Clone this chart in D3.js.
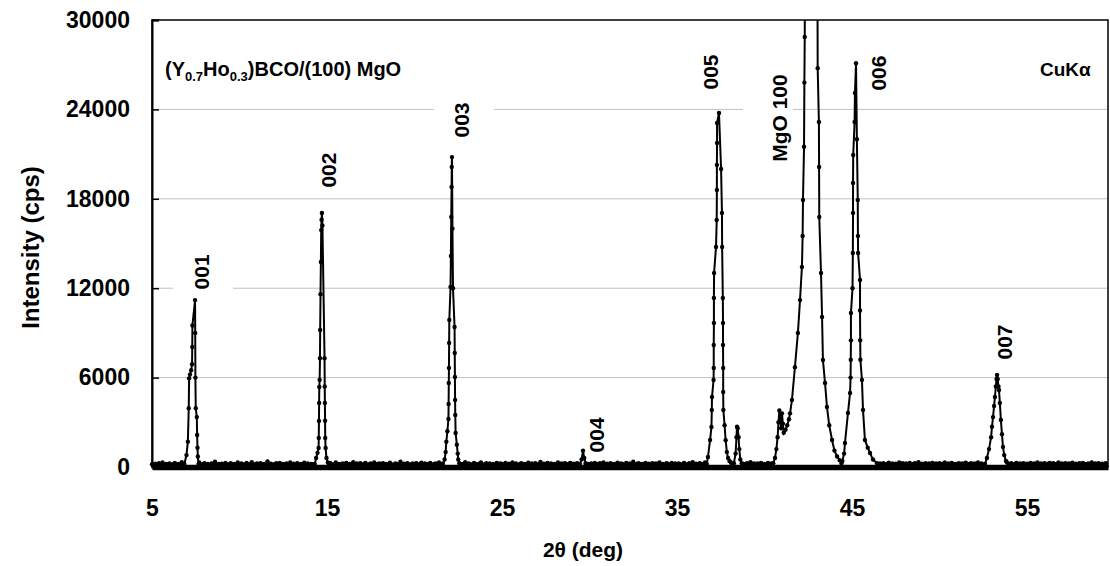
<!DOCTYPE html>
<html>
<head>
<meta charset="utf-8">
<script src="https://cdn.jsdelivr.net/npm/d3@7"></script>
<style>
  body { margin: 0; background: #fff; }
  svg { font-family: "Liberation Sans", Arial, sans-serif; font-weight: bold; }
  .grid line { stroke: #c0c0c0; stroke-width: 1; }
  .axis path { stroke: #000; stroke-width: 2; }
  .x.axis path { stroke-width: 5.5; }
  .axis line { stroke: #000; stroke-width: 1.5; }
  .axis text { font-size: 23px; fill: #000; }
  .scan-line { fill: none; stroke: #000; stroke-width: 2; }
  .scan-dot { fill: #000; }
  .peak-label { font-size: 21px; fill: #000; }
</style>
</head>
<body>
<div id="cht_XRD"></div>
<script>
// Background scan, start / step in 2theta, counts
const bgStart = 5,
  bgStep = 0.1;
const bgCounts = [
  180,140,220,90,260,150,310,120,200,170, 240,100,190,280,130,210,160,330,110,250,
  150,200,90,270,180,230,140,300,120,190, 260,170,210,110,240,150,350,130,200,180,
  220,160,280,100,190,250,140,210,170,300,
  130,240,180,110,270,160,200,320,150,190, 230,120,260,170,210,140,380,160,220,110,
  190,250,130,280,170,200,150,240,120,310, 180,220,140,260,100,200,170,290,150,230,
  120,210,180,340,160,250,130,200,190,270,
  220,150,260,130,190,300,170,210,120,240, 180,280,140,200,160,330,110,230,190,250,
  150,210,270,130,180,240,160,310,140,200, 230,120,260,180,210,150,290,170,130,240,
  200,160,350,140,220,180,260,110,190,230,
  170,250,140,210,290,160,230,120,200,270, 150,190,240,130,310,180,220,160,260,140,
  200,170,280,120,230,190,250,150,210,330, 160,240,180,130,270,200,150,220,300,170,
  140,260,190,230,160,210,120,280,180,240,
  200,150,270,130,220,180,310,160,240,110, 190,250,170,210,140,290,180,230,120,260,
  160,200,340,150,220,180,270,130,240,190, 210,160,300,140,230,170,250,120,200,280,
  150,220,180,260,130,310,190,240,160,210,
  180,230,140,270,200,160,250,120,310,190, 220,150,260,180,210,130,290,170,240,200,
  140,270,190,230,160,350,120,210,250,180, 200,150,280,170,220,140,260,190,230,130,
  300,180,210,160,250,200,140,270,190,230,
  160,240,190,130,280,210,170,250,150,320, 180,220,140,260,200,170,310,150,230,190,
  240,160,280,140,210,180,260,200,150,300, 170,230,190,250,140,220,280,160,210,180,
  260,150,330,190,230,170,240,140,280,200,
  210,160,270,190,240,150,300,180,230,200, 170,260,140,310,220,190,250,160,280,210,
  180,240,200,320,170,260,150,230,290,190, 220,180,270,160,240,310,200,250,170,230,
  280,190,260,210,240,180,300,220,260,230,
  240,200,280,170,230,310,190,260,150,220, 270,180,240,200,330,160,230,190,260,140,
  210,290,170,240,180,220,150,300,200,250, 160,230,190,270,140,210,250,180,320,160,
  220,190,260,150,240,200,280,170,230,190,
  250,160,220,300,180,240,150,270,200,210, 170,260,190,230,140,290,210,180,250,160,
  230,200,310,170,240,150,220,280,190,260, 180,230,150,270,200,240,160,300,190,220,
  170,250,140,210,280,180,230,200,260,160,
  220,180,270,150,240,200,310,170,230,190, 260,140,220,280,180,250,160,210,300,190,
  230,170,260,150,240,200,290,160,220,180, 250,140,270,210,190,230,160,300,180,240,
  200,260,150,220,190,250,170
];

// Peak regions [2theta, counts]
const peak001 = [
  [6.85,200],[6.97,800],[7.05,1700],[7.10,3950],[7.12,5950],[7.17,6200],[7.24,6500],
  [7.29,6900],[7.30,8050],[7.31,9500],[7.46,11200],[7.47,9000],[7.48,6000],[7.50,3950],
  [7.56,3350],[7.58,2150],[7.60,1300],[7.62,700],[7.66,200]
];
const peak002 = [
  [14.30,200],[14.38,600],[14.46,950],[14.52,1280],[14.53,1950],[14.54,3090],[14.55,4300],
  [14.56,5370],[14.58,5850],[14.60,7300],[14.61,9200],[14.63,11600],[14.65,13760],
  [14.67,15900],[14.69,16600],[14.71,17050],[14.74,16200],[14.86,7300],[14.87,5400],
  [14.88,4300],[14.89,3100],[14.90,1950],[14.92,1280],[14.97,600],[15.05,300],[15.12,200]
];
const peak003 = [
  [21.62,200],[21.72,500],[21.78,1000],[21.82,1700],[21.88,2400],[21.94,3220],[21.95,4230],
  [21.96,5640],[21.97,6640],[21.98,8320],[21.99,9870],[22.06,12080],[22.08,14160],
  [22.10,16780],[22.12,18800],[22.13,20130],[22.14,20800],[22.17,16000],[22.20,12000],
  [22.29,9400],[22.30,7650],[22.31,6040],[22.32,4500],[22.33,3490],[22.35,2280],
  [22.42,1500],[22.47,900],[22.50,500],[22.56,250],[22.65,180]
];
const peak004 = [[29.45,200],[29.55,500],[29.63,1100],[29.70,600],[29.78,250]];
const peak005 = [
  [36.70,200],[36.77,670],[36.89,1810],[36.97,2680],[36.99,3830],[37.00,4700],[37.09,5840],
  [37.10,6640],[37.10,8190],[37.11,9660],[37.11,11340],[37.12,13020],[37.23,14770],
  [37.27,16580],[37.28,18590],[37.28,20270],[37.29,21740],[37.29,23090],[37.40,23760],
  [37.52,20000],[37.57,17050],[37.58,14770],[37.62,11340],[37.63,9660],[37.63,8190],
  [37.64,6640],[37.64,5030],[37.65,3830],[37.72,2800],[37.78,1800],[37.85,1000],
  [37.92,600],[38.00,400],[38.08,300],[38.15,200],
  [38.25,250],[38.35,900],[38.40,2000],[38.43,2700],[38.47,2600],[38.52,2000],
  [38.56,1200],[38.62,500],[38.70,250]
];
const peakMgO = [
  [40.50,250],[40.60,600],[40.68,1200],[40.75,2000],[40.80,3000],[40.85,3800],[40.90,3300],
  [40.95,2600],[41.00,3600],[41.05,2900],[41.10,2300],[41.20,2500],[41.30,2800],[41.40,3200],
  [41.46,3600],[41.57,4500],[41.74,6700],[41.91,9000],[42.03,11200],[42.14,13420],
  [42.18,15500],[42.20,17920],[42.26,21500],[42.28,25800],[42.30,28860],[42.36,45000],
  [42.50,80000],[42.70,110000],[42.90,80000],[43.00,45000],[43.04,26770],[43.11,23150],
  [43.12,20130],[43.13,16780],[43.23,13020],[43.29,10070],[43.34,7180],[43.46,5640],
  [43.57,4030],[43.70,2800],[43.86,1810],[44.00,1100],[44.15,700],[44.30,450]
];
const peak006 = [
  [44.45,400],[44.55,900],[44.60,1610],[44.77,3620],[44.89,4970],[44.92,6000],[44.93,7200],
  [44.94,8500],[44.94,10340],[45.03,12000],[45.05,14360],[45.06,17050],[45.06,19060],
  [45.07,20940],[45.15,23150],[45.17,25100],[45.23,27100],[45.28,22000],[45.33,17920],
  [45.34,15500],[45.35,14360],[45.46,12550],[45.46,10500],[45.47,8500],[45.48,7200],
  [45.57,5840],[45.63,3830],[45.74,1810],[45.90,1300],[46.03,940],[46.20,500],[46.43,250]
];
const peak007 = [
  [52.60,200],[52.71,600],[52.83,1200],[52.95,2000],[53.00,2700],[53.06,3350],[53.12,4100],
  [53.17,4700],[53.22,5400],[53.26,5900],[53.29,6170],[53.33,5900],[53.37,5400],
  [53.40,5170],[53.45,4300],[53.51,3150],[53.57,2200],[53.63,1340],[53.70,800],
  [53.80,400],[53.86,300],[53.95,200]
];

const yTicks = [0, 6000, 12000, 18000, 24000, 30000];
const xTicks = [5, 15, 25, 35, 45, 55];

// Reflection labels (anchor in 2theta / counts)
const labelText = ["001", "002", "003", "004", "005", "MgO 100", "006", "007"];
const labelTheta = [7.8, 15.11, 22.71, 30.4, 36.94, 40.83, 46.54, 53.69];
const labelCounts = [13090, 19930, 23290, 2150, 26510, 23420, 26440, 8390];

const chtWidth = 1110,
  chtHeight = 566;
const margin = { top: 20, right: 2, bottom: 99, left: 152 };
const width = chtWidth - margin.left - margin.right,
  height = chtHeight - margin.top - margin.bottom;

// assemble the scan: background outside the peak windows + peak points
const peaks = [peak001, peak002, peak003, peak004, peak005, peakMgO, peak006, peak007];
const windows = peaks.map(function(p) {
  return [p[0][0], p[p.length - 1][0]];
});
let scan = [];
bgCounts.forEach(function(c, i) {
  const t = bgStart + i * bgStep;
  const inPeak = windows.some(function(w) {
    return t >= w[0] - 0.01 && t <= w[1] + 0.01;
  });
  if (!inPeak) scan.push({ key: t, value: c });
});
peaks.forEach(function(p) {
  p.forEach(function(d) {
    scan.push({ key: d[0], value: d[1] });
  });
});
scan.sort(function(a, b) {
  return a.key - b.key;
});

const svg = d3
  .select("#cht_XRD")
  .append("svg")
  .attr("width", chtWidth)
  .attr("height", chtHeight);

const g = svg
  .append("g")
  .attr("transform", "translate(" + margin.left + "," + margin.top + ")");

const x = d3.scaleLinear().domain([5, 59.63]).range([0, width]),
  y = d3.scaleLinear().domain([0, 30000]).range([height, 0]);

g.append("clipPath")
  .attr("id", "plot-clip")
  .append("rect")
  .attr("x", -3)
  .attr("y", 0)
  .attr("width", width + 3)
  .attr("height", height + 4);

// gridlines
g.append("g")
  .attr("class", "grid")
  .selectAll("line")
  .data(yTicks.slice(1, -1))
  .join("line")
  .attr("x1", 0)
  .attr("x2", width)
  .attr("y1", function(d) {
    return y(d);
  })
  .attr("y2", function(d) {
    return y(d);
  });

const labels = labelText.map(function(t, i) {
  return { text: t, key: labelTheta[i], value: labelCounts[i] };
});

// white boxes behind the reflection labels (they only hide gridlines)
const boxG = g.append("g");

// scan line + markers
const plot = g.append("g").attr("clip-path", "url(#plot-clip)");

const scanLine = d3
  .line()
  .x(function(d) {
    return x(d.key);
  })
  .y(function(d) {
    return y(d.value);
  });

plot
  .append("path")
  .datum(scan)
  .attr("class", "scan-line")
  .attr("d", scanLine);

plot
  .selectAll(".scan-dot")
  .data(scan)
  .join("circle")
  .attr("class", "scan-dot")
  .attr("r", 2.2)
  .attr("cx", function(d) {
    return x(d.key);
  })
  .attr("cy", function(d) {
    return y(d.value);
  });

const labelG = g.append("g");
labelG
  .selectAll("text")
  .data(labels)
  .join("text")
  .attr("class", "peak-label")
  .attr("text-anchor", "middle")
  .attr("dy", "0.36em")
  .attr("transform", function(d) {
    return "translate(" + x(d.key) + "," + y(d.value) + ") rotate(-90)";
  })
  .text(function(d) {
    return d.text;
  })
  .each(function(d) {
    d.len = this.getComputedTextLength();
  });

boxG
  .selectAll("rect")
  .data(labels)
  .join("rect")
  .attr("fill", "#fff")
  .attr("x", function(d) {
    return x(d.key) - (d.text.length > 3 ? 36 : 28);
  })
  .attr("y", function(d) {
    return y(d.value) - d.len / 2 - 4;
  })
  .attr("width", function(d) {
    return d.text.length > 3 ? 50 : 60;
  })
  .attr("height", function(d) {
    return d.len + 8;
  });

// plot border
g.append("rect")
  .attr("width", width)
  .attr("height", height)
  .attr("fill", "none")
  .attr("stroke", "#000")
  .attr("stroke-width", 1.5);

// axes
g.append("g")
  .attr("class", "y axis")
  .call(
    d3
      .axisLeft(y)
      .tickValues(yTicks)
      .tickSize(-7)
      .tickPadding(22)
      .tickFormat(d3.format("d"))
  );

g.append("g")
  .attr("class", "x axis")
  .attr("transform", "translate(0," + height + ")")
  .call(
    d3
      .axisBottom(x)
      .tickValues(xTicks)
      .tickSize(0)
      .tickPadding(33)
      .tickFormat(d3.format("d"))
  );

// axis titles
svg
  .append("text")
  .attr("transform", "rotate(-90)")
  .attr("x", -(margin.top + height / 2 + 4))
  .attr("y", 39)
  .attr("text-anchor", "middle")
  .style("font-size", "24px")
  .text("Intensity (cps)");

svg
  .append("text")
  .attr("x", 583)
  .attr("y", 557)
  .attr("text-anchor", "middle")
  .style("font-size", "21px")
  .text("2θ (deg)");

// sample title with subscripts
const title = g
  .append("text")
  .attr("x", 13)
  .attr("y", 56)
  .style("font-size", "20px");
title.append("tspan").text("(Y");
title.append("tspan").attr("dy", 5).style("font-size", "13px").text("0.7");
title.append("tspan").attr("dy", -5).text("Ho");
title.append("tspan").attr("dy", 5).style("font-size", "13px").text("0.3");
title.append("tspan").attr("dy", -5).text(")BCO/(100) MgO");

g.append("text")
  .attr("x", 888)
  .attr("y", 56)
  .style("font-size", "19px")
  .text("CuKα");
</script>
</body>
</html>
